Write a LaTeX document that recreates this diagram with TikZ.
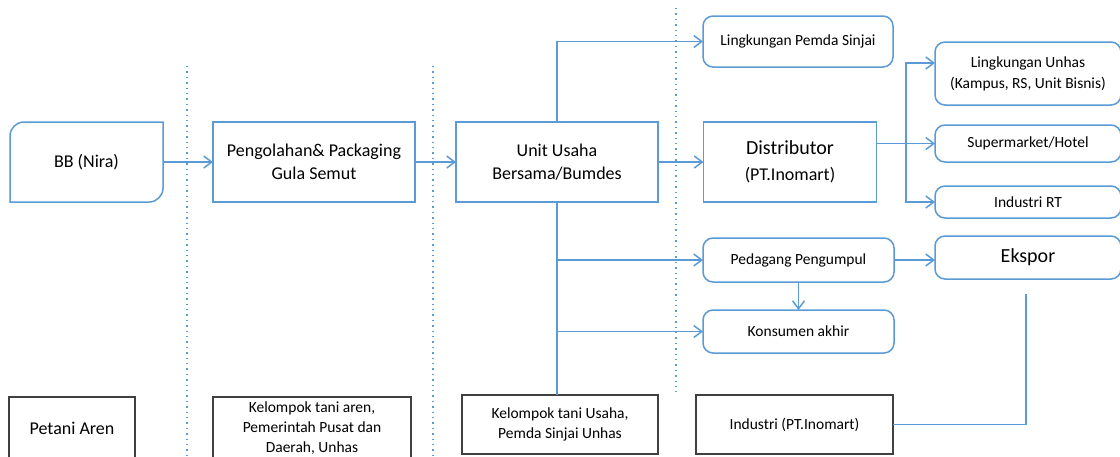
\documentclass[tikz,border=0pt]{standalone}
\usepackage{fontspec}
\setmainfont{Carlito}
\usetikzlibrary{arrows.meta}

\definecolor{lineblue}{HTML}{5B9BD5}
\definecolor{boxgray}{HTML}{404040}

\tikzset{
  box/.style={draw=lineblue, line width=1.5pt, fill=white, inner sep=0pt, outer sep=0pt, align=center},
  roundbox/.style={box, rounded corners=10pt},
  plainbox/.style={draw=boxgray, line width=1.4pt, fill=white, inner sep=0pt, outer sep=0pt, align=center},
  flow/.style={draw=lineblue, line width=1.5pt, -{Straight Barb[length=8pt,width=12pt]}},
  flowline/.style={draw=lineblue, line width=1.5pt},
  divider/.style={draw=lineblue, line width=1.4pt, dash pattern=on 1.4pt off 4pt},
  big/.style={font=\fontsize{18}{23}\selectfont},
  small/.style={font=\fontsize{15.5}{21}\selectfont},
  tiny/.style={font=\fontsize{15.5}{20}\selectfont}
}

\begin{document}
\begin{tikzpicture}[x=1pt, y=-1pt]
\useasboundingbox (0,0) rectangle (1120,456);

% vertical dividers
\draw[divider] (187,66) -- (187,456);
\draw[divider] (433,66) -- (433,456);
\draw[divider] (676,8) -- (676,392);

% main chain
\node[inner sep=0pt, outer sep=0pt, minimum width=153pt, minimum height=80pt, big] (bb) at (86.5,162) {BB (Nira)};
\draw[box, fill=none] (bb.south west) -- ([yshift=-14pt]bb.north west)
  arc[start angle=180, end angle=90, radius=14pt] -- (bb.north east)
  -- ([yshift=14pt]bb.south east) arc[start angle=0, end angle=-90, radius=14pt] -- cycle;
\node[box, minimum width=202pt, minimum height=80pt, big] (peng) at (314,162) {Pengolahan\& Packaging\\Gula Semut};
\node[box, minimum width=202pt, minimum height=80pt, big] (uus) at (557,162) {Unit Usaha\\Bersama/Bumdes};
\node[box, minimum width=173pt, minimum height=80pt, font=\fontsize{20}{26}\selectfont] (dist) at (790,162) {Distributor\\{\fontsize{18}{23}\selectfont(PT.Inomart)}};

% market side
\node[roundbox, minimum width=190pt, minimum height=51pt, small] (pemda) at (798,41.5) {Lingkungan Pemda Sinjai};
\node[roundbox, minimum width=186pt, minimum height=63pt, small] (unhas) at (1028,73.5) {Lingkungan Unhas\\(Kampus, RS, Unit Bisnis)};
\node[roundbox, minimum width=186pt, minimum height=37pt, small] (super) at (1028,143.5) {Supermarket/Hotel};
\node[roundbox, minimum width=186pt, minimum height=32pt, small] (indrt) at (1028,202) {Industri RT};
\node[roundbox, minimum width=191pt, minimum height=44pt, small] (pedagang) at (798.5,260) {Pedagang Pengumpul};
\node[roundbox, minimum width=186pt, minimum height=43pt, font=\fontsize{20}{25}\selectfont] (ekspor) at (1028,257.5) {Ekspor};
\node[roundbox, minimum width=191pt, minimum height=43pt, small] (konsumen) at (798.5,331.5) {Konsumen akhir};

% actors
\node[plainbox, minimum width=126pt, minimum height=62pt, big] (petani) at (72,428) {Petani Aren};
\node[plainbox, minimum width=198pt, minimum height=62pt, tiny] (kelaren) at (312,428) {Kelompok tani aren,\\Pemerintah Pusat dan\\Daerah, Unhas};
\node[plainbox, minimum width=196pt, minimum height=59pt, tiny] (kelusaha) at (560,424.5) {Kelompok tani Usaha,\\Pemda Sinjai Unhas};
\node[plainbox, minimum width=197pt, minimum height=59pt, tiny] (industri) at (794.5,424.5) {Industri (PT.Inomart)};

\coordinate (split) at (906,143.5);
\coordinate (eksout) at (1026,294);

% connectors
\draw[flow] (bb) -- (peng);
\draw[flow] (peng) -- (uus);
\draw[flow] (uus) -- (dist);
\draw[flow] (uus.north) |- (pemda.west);
\draw[flow] (uus.south) |- (pedagang.west);
\draw[flow] (uus.south) |- (konsumen.west);
\draw[flowline] (uus.south) -- (uus.south |- kelusaha.north);
\draw[flow] (dist.east |- super.west) -- (super.west);
\draw[flow] (split) |- ([yshift=10.5pt]unhas.west);
\draw[flow] (split) |- (indrt.west);
\draw[flow] (pedagang) -- (ekspor.west |- pedagang.east);
\draw[flow] (pedagang) -- (konsumen);
\draw[flowline] (eksout) |- (industri.east);
\end{tikzpicture}
\end{document}
